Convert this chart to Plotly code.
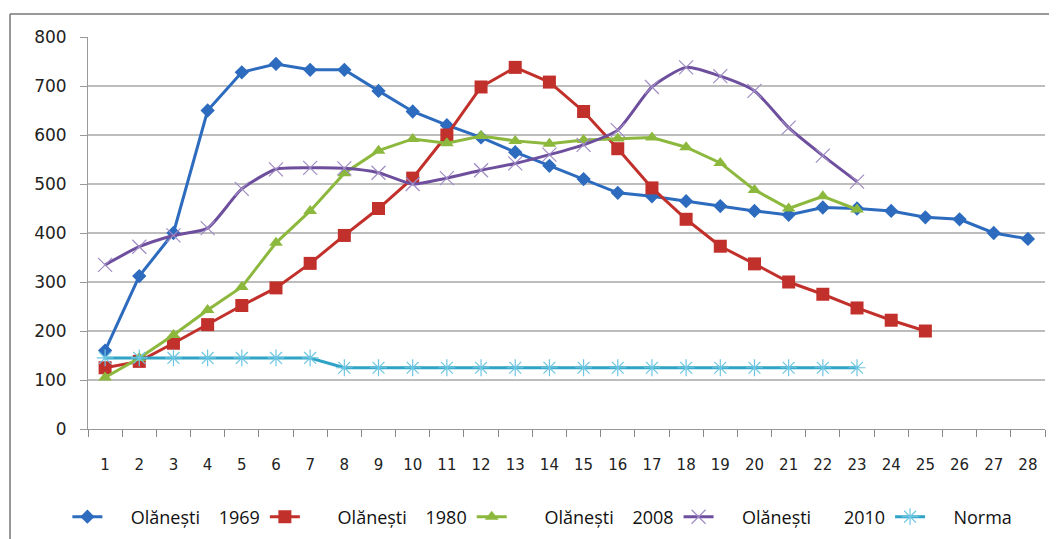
import plotly.graph_objects as go

days = [str(i) for i in range(1, 29)]
y1969 = [160, 312, 400, 650, 728, 745, 733, 733, 690, 648, 620, 595, 565, 537, 510, 482, 475, 465, 455, 445, 437, 452, 450, 445, 432, 428, 400, 388]
y1980 = [125, 138, 175, 213, 252, 288, 338, 395, 450, 512, 600, 698, 738, 708, 648, 572, 492, 428, 373, 337, 300, 275, 247, 222, 200]
y2008 = [105, 145, 192, 243, 290, 380, 445, 522, 568, 592, 583, 598, 588, 582, 590, 593, 595, 575, 543, 488, 450, 475, 448]
y2010 = [335, 372, 395, 410, 490, 530, 533, 532, 523, 500, 512, 528, 542, 560, 580, 610, 698, 738, 720, 690, 615, 558, 505]
norma = [145, 145, 145, 145, 145, 145, 145, 125, 125, 125, 125, 125, 125, 125, 125, 125, 125, 125, 125, 125, 125, 125, 125]

S = "\u00a0"
names = [S * 5 + "Olănești" + S * 4 + "1969",
         S * 7 + "Olănești" + S * 4 + "1980",
         S * 7 + "Olănești" + S * 4 + "2008",
         S * 5 + "Olănești" + S * 7 + "2010",
         S * 5 + "Norma"]

fig = go.Figure()
fig.add_trace(go.Scatter(x=days[:len(y1969)], y=y1969, name=names[0], mode="lines+markers",
                         line=dict(color="#2D6BBE", width=3),
                         marker=dict(symbol="diamond", size=11, color="#2D6BBE")))
fig.add_trace(go.Scatter(x=days[:len(y1980)], y=y1980, name=names[1], mode="lines+markers",
                         line=dict(color="#C2302B", width=3),
                         marker=dict(symbol="square", size=13, color="#C2302B")))
fig.add_trace(go.Scatter(x=days[:len(y2008)], y=y2008, name=names[2], mode="lines+markers",
                         line=dict(color="#8DB83E", width=3),
                         marker=dict(symbol="triangle-up", size=12, color="#8DB83E")))
fig.add_trace(go.Scatter(x=days[:len(y2010)], y=y2010, name=names[3], mode="lines+markers",
                         line=dict(color="#6E4F9E", width=3, shape="spline", smoothing=0.6),
                         marker=dict(symbol="x-thin-open", size=14, color="#A08CC4",
                                     line=dict(width=1.2, color="#A08CC4"))))
fig.add_trace(go.Scatter(x=days[:len(norma)], y=norma, name=names[4], mode="lines+markers",
                         line=dict(color="#2EA3C6", width=3),
                         marker=dict(symbol="asterisk-open", size=14, color="#6CC6E2",
                                     line=dict(width=1.2, color="#6CC6E2"))))

fig.update_layout(
    width=1057, height=539,
    margin=dict(l=80, r=20, t=29, b=110),
    paper_bgcolor="white", plot_bgcolor="white",
    font=dict(family="DejaVu Sans", size=14, color="#222"),
    showlegend=True,
    legend=dict(orientation="h", x=0.4748, xanchor="center", y=-0.2245, yanchor="middle",
                font=dict(family="Open Sans", size=18, color="#111"),
                tracegroupgap=0, bgcolor="rgba(0,0,0,0)"),
    xaxis=dict(type="category", categoryorder="array", categoryarray=days,
               range=[-0.5, 27.5], tickson="boundaries", ticks="outside", ticklen=7,
               tickcolor="#888", showline=True, linecolor="#999", linewidth=1,
               showgrid=False, ticklabelstandoff=22,
               tickfont=dict(size=15, family="DejaVu Sans", color="#222")),
    yaxis=dict(range=[0, 800], dtick=100, ticks="outside", ticklen=7, tickcolor="#999",
               showline=True, linecolor="#999", linewidth=1, showgrid=True,
               gridcolor="#BDBDBD", gridwidth=1.5, zeroline=False, ticklabelstandoff=10,
               tickfont=dict(size=17, family="DejaVu Sans", color="#222")),
)

# outer chart border (top and left edges visible)
fig.add_shape(type="line", xref="paper", yref="paper", x0=-0.0815, x1=1.03, y0=1.0587, y1=1.0587,
              line=dict(color="#777", width=1.5))
fig.add_shape(type="line", xref="paper", yref="paper", x0=-0.0815, x1=-0.0815, y0=1.0587, y1=-0.3,
              line=dict(color="#777", width=1.5))

fig.write_html("out.html")
